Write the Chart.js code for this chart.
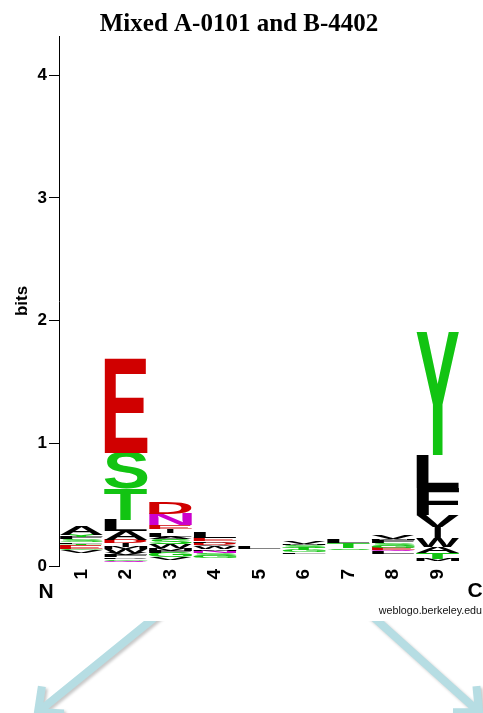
<!DOCTYPE html>
<html>
<head>
<meta charset="utf-8">
<script src="https://cdn.jsdelivr.net/npm/chart.js@4/dist/chart.umd.min.js"></script>
<style>
  html, body { margin: 0; padding: 0; background: #fff; }
  #wrap { width: 483px; height: 713px; }
</style>
</head>
<body>
<div id="wrap"><canvas id="logo" width="483" height="713"></canvas></div>
<script>
// Sequence positions along the peptide
const positions = ['1', '2', '3', '4', '5', '6', '7', '8', '9'];

// Residues and their information content (bits), listed bottom to top of each stack
const res1  = ['W', 'C', 'H', 'P', 'M', 'N', 'K', 'Q', 'R', 'D', 'I', 'V', 'G', 'E', 'T', 'L', 'S', 'F', 'Y', 'A'];
const bits1 = [0.009, 0.0095, 0.0095, 0.01, 0.0095, 0.01, 0.0095, 0.01, 0.0095, 0.01, 0.01, 0.02, 0.014, 0.03, 0.012, 0.014, 0.022, 0.016, 0.022, 0.075];

const res2  = ['C', 'H', 'Y', 'K', 'Q', 'G', 'P', 'F', 'V', 'W', 'M', 'I', 'D', 'A', 'L', 'T', 'S', 'E'];
const bits2 = [0.008, 0.008, 0.007, 0.008, 0.012, 0.014, 0.014, 0.018, 0.02, 0.026, 0.016, 0.034, 0.028, 0.07, 0.09, 0.255, 0.295, 0.775];

const res3  = ['C', 'H', 'Y', 'P', 'K', 'R', 'V', 'G', 'F', 'M', 'W', 'S', 'A', 'L', 'I', 'E', 'N', 'D'];
const bits3 = [0.008, 0.008, 0.008, 0.008, 0.008, 0.009, 0.02, 0.038, 0.018, 0.018, 0.035, 0.04, 0.019, 0.035, 0.032, 0.03, 0.09, 0.097];

const res4  = ['C', 'H', 'Y', 'P', 'K', 'R', 'T', 'I', 'G', 'S', 'N', 'M', 'W', 'V', 'D', 'F', 'E', 'L'];
const bits4 = [0.008, 0.008, 0.008, 0.008, 0.008, 0.008, 0.009, 0.008, 0.016, 0.022, 0.022, 0.012, 0.022, 0.014, 0.018, 0.014, 0.025, 0.055];

const res5  = ['A', 'C', 'D', 'E', 'F', 'G', 'H', 'I', 'K', 'M', 'N', 'P', 'Q', 'R', 'S', 'T', 'V', 'W', 'Y', 'L'];
const bits5 = [0.0075, 0.007, 0.0075, 0.0075, 0.0072, 0.0075, 0.007, 0.0075, 0.007, 0.0072, 0.0075, 0.007, 0.0072, 0.0075, 0.0075, 0.0075, 0.0075, 0.007, 0.0072, 0.016];

const res6  = ['A', 'C', 'D', 'E', 'H', 'I', 'K', 'N', 'P', 'Q', 'R', 'W', 'F', 'G', 'T', 'S', 'M', 'V'];
const bits6 = [0.008, 0.008, 0.008, 0.009, 0.008, 0.008, 0.008, 0.008, 0.008, 0.008, 0.009, 0.008, 0.014, 0.022, 0.016, 0.02, 0.012, 0.022];

const res7  = ['A', 'C', 'D', 'E', 'F', 'G', 'H', 'I', 'K', 'M', 'N', 'P', 'Q', 'R', 'V', 'W', 'Y', 'S', 'T', 'L'];
const bits7 = [0.008, 0.007, 0.008, 0.008, 0.008, 0.008, 0.007, 0.008, 0.007, 0.008, 0.008, 0.007, 0.008, 0.008, 0.008, 0.007, 0.007, 0.014, 0.04, 0.025];

const res8  = ['A', 'C', 'D', 'H', 'I', 'K', 'N', 'P', 'R', 'T', 'W', 'Y', 'L', 'Q', 'E', 'G', 'S', 'F', 'M', 'V'];
const bits8 = [0.008, 0.008, 0.008, 0.008, 0.008, 0.008, 0.009, 0.008, 0.008, 0.009, 0.008, 0.008, 0.018, 0.014, 0.02, 0.016, 0.022, 0.02, 0.014, 0.03];

const res9  = ['C', 'D', 'E', 'H', 'K', 'M', 'T', 'A', 'W', 'I', 'V', 'F', 'L', 'Y'];
const bits9 = [0.008, 0.008, 0.008, 0.008, 0.008, 0.017, 0.049, 0.049, 0.073, 0.09, 0.097, 0.22, 0.27, 1.0];

// Axis ticks
const bitTicks = [0, 1, 2, 3, 4];
const bitMax = 4.32;

// Residue colour classes
const residueColors = {
  G: '#12c412', S: '#12c412', T: '#12c412', Y: '#12c412', C: '#12c412',
  N: '#cc00cc', Q: '#cc00cc',
  K: '#0000cc', R: '#0000cc', H: '#0000cc',
  D: '#d00000', E: '#d00000'
};
const colorOf = r => residueColors[r] || '#000000';

const columns = [
  [res1, bits1], [res2, bits2], [res3, bits3], [res4, bits4], [res5, bits5],
  [res6, bits6], [res7, bits7], [res8, bits8], [res9, bits9]
];

// One stacked dataset per layer of the logo (layer 0 = bottom letter of every column)
const depth = Math.max(...columns.map(c => c[0].length));
const datasets = [];
for (let k = 0; k < depth; k++) {
  datasets.push({
    data: columns.map(c => (c[1][k] !== undefined ? c[1][k] : 0)),
    letters: columns.map(c => c[0][k] || ''),
    backgroundColor: 'rgba(0,0,0,0)',
    borderWidth: 0,
    barPercentage: 0.97,
    categoryPercentage: 1
  });
}

// Draws a glyph stretched to fill a rectangle
function drawGlyph(ctx, ch, color, left, top, w, h) {
  ctx.save();
  ctx.font = 'bold 100px "Liberation Sans", Arial, sans-serif';
  ctx.textBaseline = 'alphabetic';
  ctx.textAlign = 'left';
  const m = ctx.measureText(ch);
  const gw = m.actualBoundingBoxLeft + m.actualBoundingBoxRight;
  const gh = m.actualBoundingBoxAscent + m.actualBoundingBoxDescent;
  let dw = w, dl = left;
  if (ch === 'I') { dw = w * 0.16; dl = left + (w - dw) / 2; }
  ctx.translate(dl, top);
  ctx.scale(dw / gw, h / gh);
  ctx.fillStyle = color;
  ctx.fillText(ch, m.actualBoundingBoxLeft, m.actualBoundingBoxAscent);
  ctx.restore();
}

const letterPlugin = {
  id: 'logoLetters',
  afterDatasetsDraw(chart) {
    const ctx = chart.ctx;
    chart.data.datasets.forEach((ds, i) => {
      const meta = chart.getDatasetMeta(i);
      meta.data.forEach((bar, j) => {
        const p = bar.getProps(['x', 'y', 'base', 'width'], true);
        const h = p.base - p.y;
        const ch = ds.letters[j];
        if (!ch || h < 1.3) return;   // letters thinner than a pixel are not rendered
        drawGlyph(ctx, ch, colorOf(ch), p.x - p.width / 2, p.y, p.width, h);
      });
    });
  }
};

// Title, sequence-end markers, credit line and pointer arrows
function drawArrow(ctx, x0, y0, x1, y1) {
  const ang = Math.atan2(y0 - y1, x0 - x1);
  const arm = 26, spread = 0.74;
  ctx.beginPath();
  ctx.moveTo(x0, y0);
  ctx.lineTo(x1, y1);
  ctx.moveTo(x1 + arm * Math.cos(ang - spread), y1 + arm * Math.sin(ang - spread));
  ctx.lineTo(x1, y1);
  ctx.lineTo(x1 + arm * Math.cos(ang + spread), y1 + arm * Math.sin(ang + spread));
  ctx.stroke();
}

const decorPlugin = {
  id: 'decor',
  afterDraw(chart) {
    const ctx = chart.ctx;
    ctx.save();
    ctx.fillStyle = '#000';
    ctx.textAlign = 'center';
    ctx.textBaseline = 'alphabetic';
    ctx.font = 'bold 25px "Liberation Serif", "Times New Roman", serif';
    ctx.fillText('Mixed A-0101 and B-4402', 239, 31);
    ctx.font = 'bold 21px "Liberation Sans", Arial, sans-serif';
    ctx.fillText('N', 46, 598);
    ctx.fillText('C', 475, 597);
    ctx.textAlign = 'right';
    ctx.font = '10.7px "Liberation Sans", Arial, sans-serif';
    ctx.fillStyle = '#111';
    ctx.fillText('weblogo.berkeley.edu', 482, 614);
    ctx.restore();

    ctx.save();
    ctx.beginPath();
    ctx.rect(0, 621, 483, 100);
    ctx.clip();
    ctx.strokeStyle = '#b6dde3';
    ctx.lineWidth = 8;
    ctx.lineCap = 'butt';
    ctx.lineJoin = 'miter';
    ctx.shadowColor = 'rgba(0,0,0,0.22)';
    ctx.shadowBlur = 3;
    ctx.shadowOffsetX = 2;
    ctx.shadowOffsetY = 2;
    drawArrow(ctx, 170, 605, 38, 712);
    drawArrow(ctx, 360, 605, 479, 712);
    ctx.restore();
  }
};

Chart.defaults.font.family = '"Liberation Sans", Arial, sans-serif';
Chart.defaults.color = '#000';

new Chart(document.getElementById('logo'), {
  type: 'bar',
  data: { labels: positions, datasets },
  options: {
    responsive: false,
    animation: false,
    devicePixelRatio: 1,
    layout: { padding: { top: 36, right: 23, left: 0, bottom: 0 } },
    plugins: {
      legend: { display: false },
      tooltip: { enabled: false },
      title: { display: false }
    },
    scales: {
      x: {
        stacked: true,
        grid: { display: false, drawTicks: false },
        border: { display: false },
        ticks: {
          font: { size: 19, weight: 'bold' },
          color: '#000',
          minRotation: 90,
          maxRotation: 90,
          autoSkip: false,
          padding: 3
        },
        afterFit(scale) { scale.height = 147; }
      },
      y: {
        stacked: true,
        min: 0,
        max: bitMax,
        grid: { drawOnChartArea: false, drawTicks: true, tickLength: 10, color: '#000', lineWidth: 1 },
        border: { display: true, color: '#000', width: 1 },
        ticks: { font: { size: 17, weight: 'bold' }, color: '#000', padding: 2 },
        afterBuildTicks(scale) { scale.ticks = bitTicks.map(v => ({ value: v })); },
        title: {
          display: true,
          text: 'bits',
          font: { size: 17, weight: 'bold' },
          color: '#000',
          padding: { top: 12, bottom: 0 }
        },
        afterFit(scale) { scale.width = 59; }
      }
    }
  },
  plugins: [letterPlugin, decorPlugin]
});
</script>
</body>
</html>
